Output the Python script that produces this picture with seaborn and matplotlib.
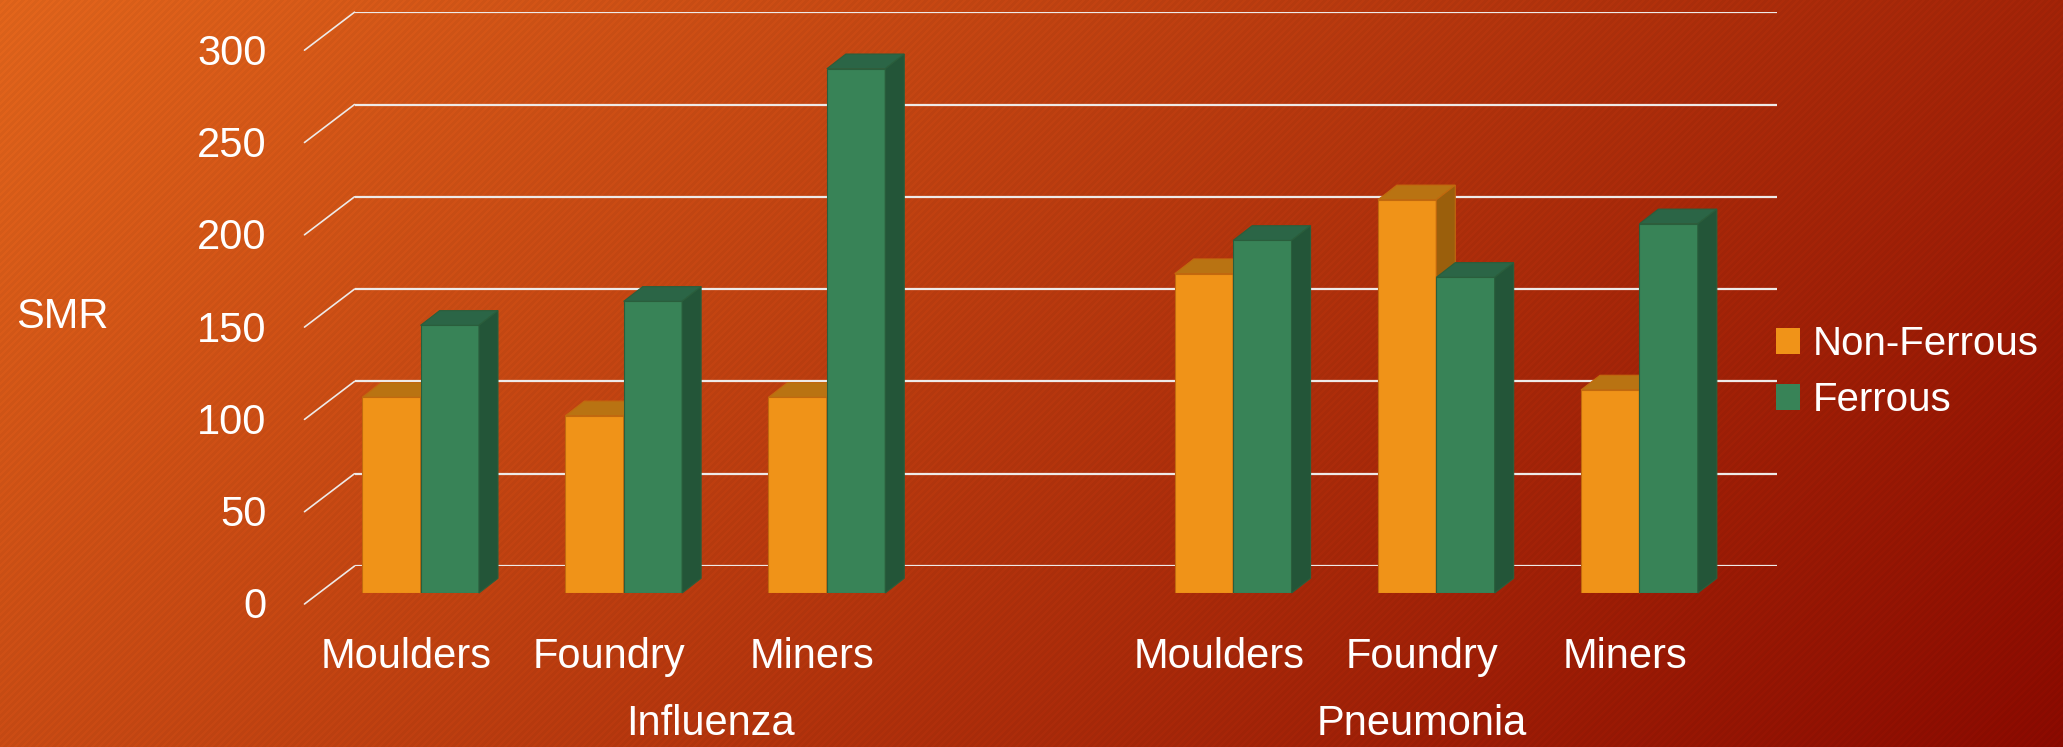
import numpy as np
import pandas as pd
import matplotlib
matplotlib.use("Agg")
import matplotlib.pyplot as plt
import seaborn as sns
from matplotlib import font_manager
from matplotlib.patches import Polygon, Patch
from matplotlib.transforms import ScaledTranslation

# ---------------- data ----------------
diseases = ["Influenza", "Pneumonia"]
occupations = ["Moulders", "Foundry", "Miners"]
series = ["Non-Ferrous", "Ferrous"]
influenza_nonferrous = [106, 96, 106]
influenza_ferrous = [145, 158, 284]
pneumonia_nonferrous = [173, 213, 110]
pneumonia_ferrous = [191, 171, 200]
y_ticks = [0, 50, 100, 150, 200, 250, 300]

rows = []
for dis, nf, fe in [("Influenza", influenza_nonferrous, influenza_ferrous),
                    ("Pneumonia", pneumonia_nonferrous, pneumonia_ferrous)]:
    for occ, a, b in zip(occupations, nf, fe):
        rows.append({"key": f"{dis}|{occ}", "series": "Non-Ferrous", "SMR": a})
        rows.append({"key": f"{dis}|{occ}", "series": "Ferrous", "SMR": b})
df = pd.DataFrame(rows)
order = [f"Influenza|{o}" for o in occupations] + ["Influenza|"] + [f"Pneumonia|{o}" for o in occupations]
tick_labels = [k.split("|")[1] for k in order]

# ---------------- style ----------------
sns.set_theme(style="white")
names = {f.name for f in font_manager.fontManager.ttflist}
main_font = "Liberation Sans" if "Liberation Sans" in names else "DejaVu Sans"
narrow_font = "Liberation Sans Narrow" if "Liberation Sans Narrow" in names else main_font
plt.rcParams["font.family"] = [main_font, "DejaVu Sans"]

W, H, DPI = 2063, 747, 100
fig = plt.figure(figsize=(W / DPI, H / DPI), dpi=DPI)

# background gradient with fine diagonal texture
yy, xx = np.mgrid[0:H, 0:W].astype(float)
t = 0.72 * xx / W + 0.28 * yy / H
c0 = np.array([228, 102, 28]) / 255.0
c1 = np.array([140, 10, 0]) / 255.0
img = c0[None, None, :] * (1 - t[..., None]) + c1[None, None, :] * t[..., None]
stripe = (((xx + yy) % 7) < 3.5).astype(float)
img = img * (1 - 0.035 * stripe[..., None])
bg = fig.add_axes([0, 0, 1, 1], zorder=-10)
bg.imshow(np.clip(img, 0, 1), aspect="auto", extent=[0, 1, 0, 1])
bg.set_axis_off()

# pixel geometry
px_per_unit_y = 553.8 / 300
front_left, front_bottom, plane_w = 319, 593, 1422
back_dx, back_dy = 35.5, 27          # bar-front plane -> back wall
floor_dx, floor_dy = 14.5, 11        # floor front -> bar-front plane
bar_dx, bar_dy = 19, 14.7            # bar depth

# back wall with gridlines
axb = fig.add_axes([(front_left + back_dx) / W, (H - front_bottom + back_dy) / H,
                    plane_w / W, 553.8 / H], zorder=0)
axb.set_xlim(0, 1)
axb.set_ylim(0, 300)
axb.set_axis_off()
grid_c = "#eeeae8"
for v in y_ticks:
    axb.axhline(v, color=grid_c, lw=1.6, zorder=1)
    tot_dx = back_dx + floor_dx
    tot_dy = back_dy + floor_dy
    axb.annotate("", xy=(0, v), xycoords=("axes fraction", "data"),
                 xytext=(-tot_dx * 72 / DPI, -tot_dy * 72 / DPI), textcoords="offset points",
                 arrowprops=dict(arrowstyle="-", color=grid_c, lw=1.2, shrinkA=0, shrinkB=0),
                 annotation_clip=False)
    axb.annotate(str(v), xy=(0, v), xycoords=("axes fraction", "data"),
                 xytext=(-88 * 72 / DPI, -(tot_dy + 14.5) * 72 / DPI), textcoords="offset points",
                 ha="right", va="baseline", color="white", fontsize=30, annotation_clip=False)

# main axes (front plane of bars)
ax = fig.add_axes([front_left / W, (H - front_bottom) / H, plane_w / W, 553.8 / H], zorder=1)
ax.patch.set_alpha(0)
palette = {"Non-Ferrous": "#F09318", "Ferrous": "#388357"}
sns.barplot(data=df, x="key", y="SMR", hue="series", order=order, hue_order=series,
            palette=palette, width=0.575, saturation=1, legend=False, ax=ax, zorder=3)
ax.set_xlim(-0.5, 6.5)
ax.set_ylim(0, 300)
for s in ax.spines.values():
    s.set_visible(False)
ax.set_yticks([])
ax.set_xlabel("")
ax.set_ylabel("")
ax.set_xticks(range(len(order)))
ax.set_xticklabels(tick_labels, color="white", fontsize=30)
ax.tick_params(axis="x", length=0, pad=75 * 72 / DPI)
shift = ScaledTranslation(-floor_dx / DPI, 0, fig.dpi_scale_trans)
for lab in ax.get_xticklabels():
    lab.set_verticalalignment("baseline")
    lab.set_transform(lab.get_transform() + shift)

# 3D faces
units_per_px_x = (ax.get_xlim()[1] - ax.get_xlim()[0]) / plane_w
ddx = bar_dx * units_per_px_x
ddy = bar_dy / px_per_unit_y
face_cols = {
    0: dict(front="#F09318", top="#B97312", side="#9B5F0C", edge="#C2690E"),
    1: dict(front="#388357", top="#2B6546", side="#235538", edge="#2A5E3C"),
}
for si, cont in enumerate(ax.containers):
    cols = face_cols[si]
    for p in cont.patches:
        h = p.get_height()
        if not np.isfinite(h) or h == 0:
            continue
        x0 = p.get_x()
        x1 = x0 + p.get_width()
        p.set_edgecolor(cols["edge"])
        p.set_linewidth(0.8)
        p.set_zorder(3 + si * 2)
        top = Polygon([[x0, h], [x1, h], [x1 + ddx, h + ddy], [x0 + ddx, h + ddy]],
                      closed=True, facecolor=cols["top"], edgecolor=cols["edge"], lw=0.8,
                      zorder=3.5 + si * 2, clip_on=False)
        side = Polygon([[x1, 0], [x1 + ddx, ddy], [x1 + ddx, h + ddy], [x1, h]],
                       closed=True, facecolor=cols["side"], edgecolor=cols["edge"], lw=0.8,
                       zorder=3.5 + si * 2, clip_on=False)
        ax.add_patch(top)
        ax.add_patch(side)

# group labels
for dis, xc in [("Influenza", 1.5), ("Pneumonia", 5.0)]:
    ax.annotate(dis, xy=(xc, 0), xycoords=("data", "axes fraction"),
                xytext=(-floor_dx * 72 / DPI, -142 * 72 / DPI), textcoords="offset points",
                ha="center", va="baseline", color="white", fontsize=30, annotation_clip=False)

# axis title
fig.text(16 / W, (H - 328) / H, "SMR", color="white", fontsize=30, ha="left", va="baseline",
         family=[narrow_font, "DejaVu Sans"])

# legend
handles = [Patch(facecolor=palette[s], edgecolor="none") for s in series]
fig.legend(handles, series, loc="center left", bbox_to_anchor=(1776 / W, (H - 372) / H),
           frameon=False, fontsize=29, handlelength=0.6, handleheight=0.6,
           handletextpad=0.3, labelspacing=0.45, borderpad=0, borderaxespad=0,
           labelcolor="white")

fig.savefig("out.png", dpi=DPI)
